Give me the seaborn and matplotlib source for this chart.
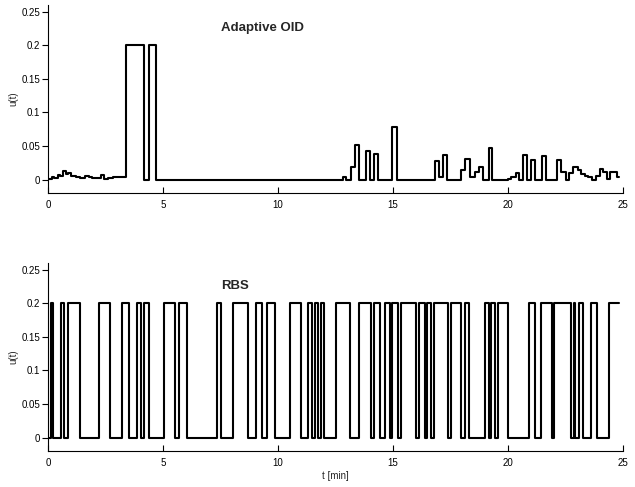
import numpy as np
import pandas as pd
import matplotlib
matplotlib.use("Agg")
import matplotlib.pyplot as plt
import seaborn as sns

# ---- Adaptive OID input (step times [min] and levels) ----
oid_t = [0.0, 0.15, 0.25, 0.4, 0.5, 0.62, 0.75, 0.85, 1.0, 1.2, 1.4, 1.6, 1.75, 1.9, 2.15, 2.3, 2.42, 2.6, 2.8,
         3.38, 4.17, 4.39, 4.67, 12.82, 12.97, 13.16, 13.33, 13.52, 13.81, 13.98, 14.16, 14.33, 14.97, 15.17,
         16.81, 17.0, 17.17, 17.35, 17.97, 18.15, 18.35, 18.58, 18.75, 18.93, 19.16, 19.32, 20.0, 20.15, 20.36,
         20.5, 20.65, 20.83, 21.02, 21.2, 21.49, 21.67, 22.13, 22.32, 22.52, 22.65, 22.82, 23.04, 23.2, 23.36,
         23.5, 23.65, 23.82, 23.99, 24.16, 24.3, 24.43, 24.6, 24.75, 24.85]
oid_u = [0.0005, 0.004, 0.003, 0.007, 0.006, 0.013, 0.009, 0.010, 0.006, 0.004, 0.003, 0.006, 0.004, 0.002,
         0.003, 0.007, 0.001, 0.003, 0.004,
         0.2, 0.0, 0.2, 0.0, 0.0045, 0.0, 0.018, 0.052, 0.0, 0.043, 0.0, 0.038, 0.0, 0.079, 0.0,
         0.028, 0.0035, 0.036, 0.0, 0.014, 0.030, 0.004, 0.011, 0.018, 0.0, 0.047, 0.0, 0.001, 0.0035, 0.010,
         0.0, 0.037, 0.0, 0.029, 0.0, 0.035, 0.0, 0.029, 0.011, 0.0, 0.010, 0.019, 0.014, 0.009, 0.006,
         0.0035, 0.0, 0.006, 0.016, 0.011, 0.001, 0.012, 0.011, 0.0035, 0.0035]

# ---- RBS input: switching times [min], level toggles 0 <-> 0.2 ----
rbs_switch = [0.12, 0.22, 0.54, 0.70, 0.87, 1.38, 2.22, 2.70, 3.20, 3.50, 3.86, 4.04, 4.18, 4.36, 5.03, 5.53,
              5.69, 6.02, 7.34, 7.52, 8.02, 8.68, 9.03, 9.30, 9.50, 9.85, 10.54, 11.0, 11.32, 11.48, 11.60,
              11.74, 11.86, 12.0, 12.50, 13.15, 13.50, 14.03, 14.18, 14.45, 14.64, 14.86, 14.97, 15.22, 15.33,
              15.99, 16.12, 16.38, 16.49, 16.67, 16.78, 17.39, 17.54, 17.97, 18.12, 18.33, 18.99,
              19.17, 19.28, 19.45, 19.57, 20.0, 20.94, 21.16, 21.45, 21.92, 22.0, 22.76, 22.86, 22.94, 23.09,
              23.26, 23.63, 23.87, 24.42]
rbs_end = 24.85
rbs_levels = [0.0, 0.2]

xticks = [0, 5, 10, 15, 20, 25]
yticks = [0, 0.05, 0.1, 0.15, 0.2, 0.25]
yticklabels = ["0", "0.05", "0.1", "0.15", "0.2", "0.25"]

# build RBS step table
rbs_t = [0.0] + rbs_switch + [rbs_end]
rbs_u = [rbs_levels[0]]
state = 0
for _ in rbs_switch:
    state = 1 - state
    rbs_u.append(rbs_levels[state])
rbs_u.append(rbs_u[-1])

df_oid = pd.DataFrame({"t": oid_t, "u": oid_u})
df_rbs = pd.DataFrame({"t": rbs_t, "u": rbs_u})

sns.set_theme(style="white")
plt.rcParams["font.family"] = ["Liberation Sans", "DejaVu Sans"]

fig = plt.figure(figsize=(6.35, 4.87), dpi=100)
ax1 = fig.add_axes([0.0761, 0.6037, 0.9046, 0.386])
ax2 = fig.add_axes([0.0761, 0.0739, 0.9046, 0.386])

for ax, df, title in [(ax1, df_oid, "Adaptive OID"), (ax2, df_rbs, "RBS")]:
    sns.lineplot(data=df, x="t", y="u", ax=ax, color="black", linewidth=1.5,
                 drawstyle="steps-post", estimator=None, sort=False)
    ax.set_xlim(0, 25)
    ax.set_ylim(-0.02, 0.26)
    ax.set_xticks(xticks)
    ax.set_xticklabels([str(v) for v in xticks])
    ax.set_yticks(yticks)
    ax.set_yticklabels(yticklabels)
    for s in ["top", "right"]:
        ax.spines[s].set_visible(False)
    for s in ["left", "bottom"]:
        ax.spines[s].set_color("black")
        ax.spines[s].set_linewidth(0.8)
    ax.tick_params(axis="x", direction="in", length=4, width=0.8, colors="black",
                   labelsize=7, pad=5, bottom=True)
    ax.tick_params(axis="y", direction="out", length=4, width=0.8, colors="black",
                   labelsize=7, pad=2, left=True)
    ax.set_ylabel("u(t)", fontsize=7, labelpad=2)
    ax.set_xlabel("")
    ax.text(7.5, 0.226, title, fontsize=9.5, fontweight="bold", ha="left", va="center")

ax2.set_xlabel("t [min]", fontsize=7, labelpad=2)

fig.savefig("out.png", dpi=100)
